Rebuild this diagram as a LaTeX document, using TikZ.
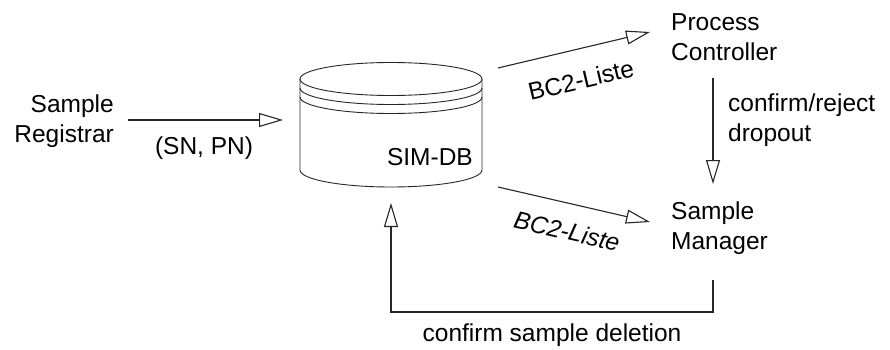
\documentclass[tikz,border=0pt]{standalone}
\usepackage{fontspec}
\setmainfont{Liberation Sans}
\usetikzlibrary{arrows.meta,calc}
\begin{document}
\begin{tikzpicture}[x=1pt,y=-1pt,
  lbl/.style={inner sep=0pt, font=\fontsize{24.5}{30.5}\selectfont},
  arr/.style={draw=black!85, line width=1.1pt, -{Triangle[open, length=24pt, width=14pt, fill=white]}},
  cyl/.style={draw=black!85, line width=0.9pt}]
\useasboundingbox (0,0) rectangle (890,350);
% database cylinder
\node[inner sep=0pt, minimum width=182pt, minimum height=125pt] (db) at (391,124.5) {};
\draw[cyl] (300,79) -- (300,170) arc[start angle=180, end angle=360, x radius=91pt, y radius=17pt] -- (482,79);
\draw[cyl] (391,79) ellipse[x radius=91pt, y radius=16.5pt];
\draw[cyl] (300,88) arc[start angle=180, end angle=360, x radius=91pt, y radius=16.5pt];
\draw[cyl] (300,97) arc[start angle=180, end angle=360, x radius=91pt, y radius=16.5pt];
\node[lbl, anchor=east] (dbl) at (473,157) {SIM-DB};
% actors
\node[lbl, align=right, anchor=east] (reg) at (114,121) {Sample\\Registrar};
\node[lbl, align=left, anchor=west] (pc) at (671,37) {Process\\Controller};
\node[lbl, align=left, anchor=west] (sm) at (671,228) {Sample\\Manager};
% connector ends
\coordinate (regout) at (128,120);
\coordinate (dbin) at (283,120);
\coordinate (dbout1) at (498,68);
\coordinate (pcin) at (650,32);
\coordinate (dbout2) at (498,187);
\coordinate (smin) at (650,222);
\coordinate (pcout) at (713,78);
\coordinate (smin2) at (713,184);
\coordinate (smout) at (713,280);
\coordinate (dbin2) at (391,203);
% connectors
\draw[arr] (regout) -- (dbin);
\draw[arr] (dbout1) -- (pcin);
\draw[arr] (dbout2) -- (smin);
\draw[arr] (pcout) -- (smin2);
\draw[arr] (smout) -- (smout |- 0,312) -- (dbin2 |- 0,312) -- (dbin2);
% labels
\node[lbl] (l1) at (204,148) {(SN, PN)};
\node[lbl, rotate=13.3] (l2) at (581,80) {BC2-Liste};
\node[lbl, rotate=-13, font=\fontsize{24.5}{30.5}\selectfont\itshape] (l3) at (567,231) {BC2-Liste};
\node[lbl, align=left, anchor=west] (l4) at (728,120) {confirm/reject\\dropout};
\node[lbl] (l5) at (552,335) {confirm sample deletion};
\end{tikzpicture}
\end{document}
